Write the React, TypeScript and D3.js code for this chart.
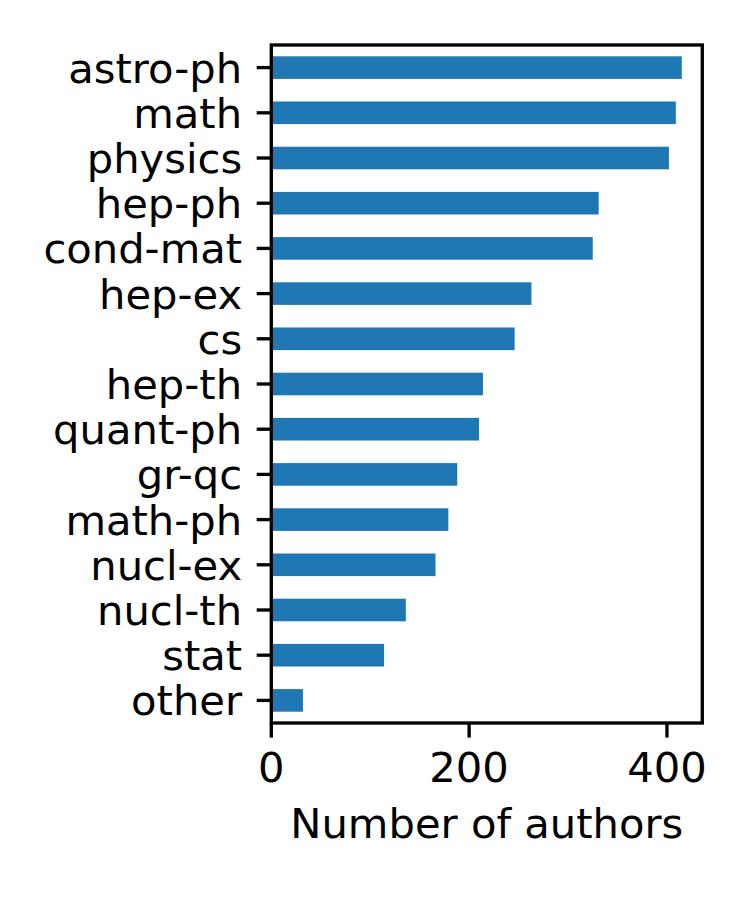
import React from "react";
import * as d3 from "d3";

const categories = ["astro-ph", "math", "physics", "hep-ph", "cond-mat", "hep-ex", "cs", "hep-th", "quant-ph", "gr-qc", "math-ph", "nucl-ex", "nucl-th", "stat", "other"];
const authorCounts = [415, 409, 402, 331, 325, 263, 246, 214, 210, 188, 179, 166, 136, 114, 32];
const xTicks = [0, 200, 400];
const xLabel = "Number of authors";

export default function App() {
  const W = 747, H = 897;
  const left = 271.3, right = 702.3, top = 45, bottom = 723;
  const fs = 41.67;
  const tickLen = 14.6, pad = 14.6, lw = 3.33;
  const x = d3.scaleLinear().domain([0, d3.max(authorCounts)! * 1.05]).range([left, right]);
  const y = d3.scaleBand<string>().domain(categories).range([top, bottom]).paddingInner(0.5).paddingOuter(0.25);
  const font = "'DejaVu Sans', sans-serif";
  return (
    <svg width={W} height={H} style={{ position: "absolute", left: 0, top: 0, background: "#fff" }} fontFamily={font}>
      <rect x={0} y={0} width={W} height={H} fill="#fff" />
      {categories.map((c, i) => (
        <rect key={c} x={x(0)} y={y(c)!} width={x(authorCounts[i]) - x(0)} height={y.bandwidth()} fill="#1f77b4" />
      ))}
      {/* spines */}
      <rect x={left} y={top} width={right - left} height={bottom - top} fill="none" stroke="#000" strokeWidth={lw} strokeLinejoin="miter" />
      {/* y ticks */}
      {categories.map((c) => {
        const cy = y(c)! + y.bandwidth() / 2;
        return (
          <g key={c}>
            <line x1={left - tickLen} x2={left} y1={cy} y2={cy} stroke="#000" strokeWidth={lw} />
            <text x={left - tickLen - pad} y={cy + 15} textAnchor="end" fontSize={fs} fill="#000">{c}</text>
          </g>
        );
      })}
      {/* x ticks */}
      {xTicks.map((t) => (
        <g key={t}>
          <line x1={x(t)} x2={x(t)} y1={bottom} y2={bottom + tickLen} stroke="#000" strokeWidth={lw} />
          <text x={x(t)} y={782.3} textAnchor="middle" fontSize={fs} fill="#000">{t}</text>
        </g>
      ))}
      <text x={(left + right) / 2} y={838} textAnchor="middle" fontSize={fs} fill="#000">{xLabel}</text>
    </svg>
  );
}
